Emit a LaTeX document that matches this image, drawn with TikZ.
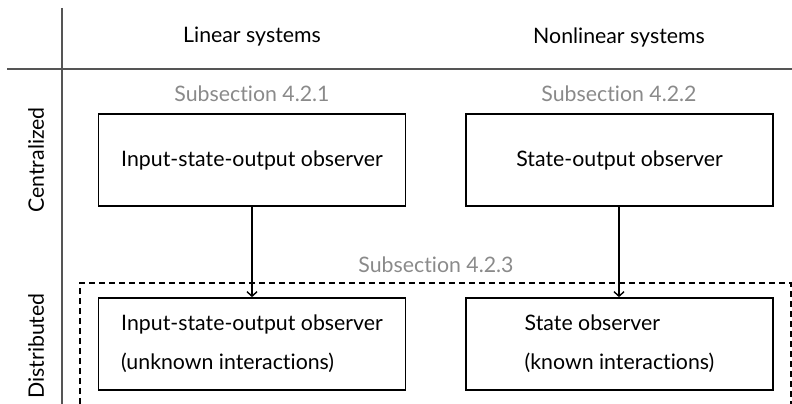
\documentclass[tikz,border=0pt]{standalone}
\usepackage{fontspec}
\setmainfont{Lato}[RawFeature={-liga;-clig;-dlig;-calt;-hlig}]
\usetikzlibrary{arrows.meta}
\definecolor{gridgray}{HTML}{555555}
\definecolor{subgray}{HTML}{8A8A8A}
\begin{document}
\begin{tikzpicture}[x=1pt,y=-1pt,
  txt/.style={font=\fontsize{21.3}{39}\selectfont, inner sep=0pt},
  subtxt/.style={txt, text=subgray},
  obsbox/.style={draw, line width=1.7pt, minimum width=307pt, minimum height=92pt,
     align=left, inner sep=0pt, font=\fontsize{21.3}{39}\selectfont},
  gridline/.style={draw=gridgray, line width=1.1pt},
  flow/.style={draw, line width=1.4pt, -{Straight Barb[length=4.5pt,width=10pt]}},
  groupbox/.style={draw, line width=1.4pt, dash pattern=on 6pt off 4pt}
]
\useasboundingbox (0,0) rectangle (792,404);
% table lines
\coordinate (vtop) at (62,8);
\coordinate (vbot) at (62,404);
\coordinate (hl) at (7,69);
\coordinate (hr) at (792,69);
\path[gridline] (vtop) -- (vbot);
\path[gridline] (hl) -- (hr);
% headers
\node[txt] (lin) at (252,37) {Linear systems};
\node[txt] (nonlin) at (619,37) {Nonlinear systems};
\node[txt, rotate=90] (cen) at (36,160) {Centralized};
\node[txt, rotate=90] (dis) at (36,346) {Distributed};
% subsection labels
\node[subtxt] (s1) at (252,94) {Subsection 4.2.1};
\node[subtxt] (s2) at (619,94) {Subsection 4.2.2};
\node[subtxt] (s3) at (436,265) {Subsection 4.2.3};
% dashed group
\coordinate (g1) at (80,404);
\coordinate (g2) at (80,283);
\coordinate (g3) at (791,283);
\coordinate (g4) at (791,404);
\path[groupbox] (g1) -- (g2) -- (g3) -- (g4);
% boxes
\node[obsbox] (b1) at (252,160) {Input-state-output observer};
\node[obsbox] (b2) at (619.5,160) {State-output observer};
\node[obsbox] (b3) at (252,344) {Input-state-output observer\\(unknown interactions)};
\node[obsbox] (b4) at (619.5,344) {State observer\\(known interactions)};
% arrows
\path[flow] (b1) -- (b3);
\path[flow] (b2.south -| 619,0) -- (b4.north -| 619,0);
\end{tikzpicture}
\end{document}
